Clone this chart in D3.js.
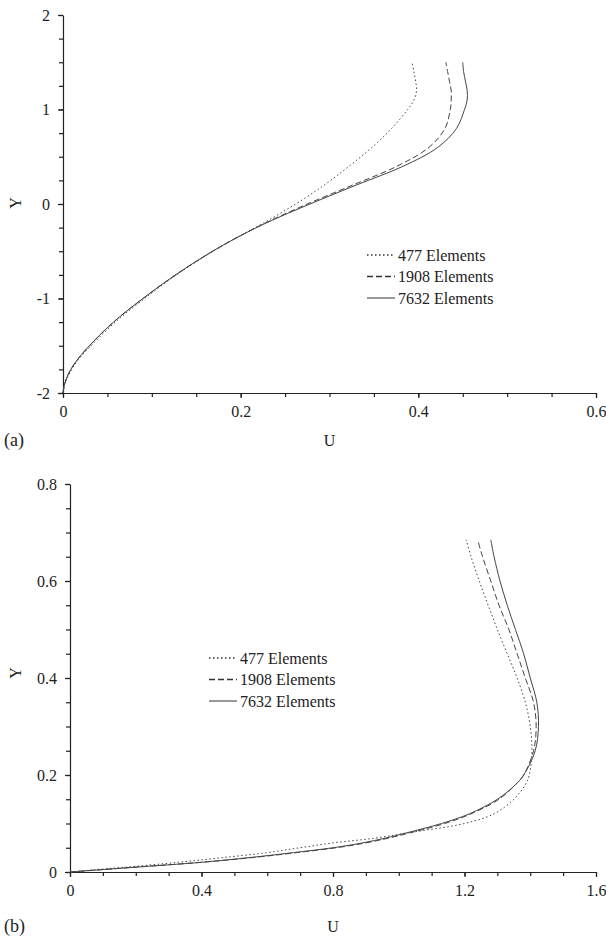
<!DOCTYPE html>
<html>
<head>
<meta charset="utf-8">
<script src="https://cdn.jsdelivr.net/npm/d3@7"></script>
<style>
  body { margin: 0; background: #fff; }
  svg text { font-family: "Liberation Serif", "Times New Roman", serif; fill: #222; }
</style>
</head>
<body>
<div id="chart"></div>
<script>
/* DATA */
var seriesNames = ["477 Elements", "1908 Elements", "7632 Elements"];
var seriesDash = ["1.5,2.5", "6,3", null];

// panel (a): U as a function of Y
var yA = [-2, -1.9, -1.8, -1.65, -1.4, -1.2, -1.0, -0.8, -0.6, -0.4, -0.2, 0, 0.2, 0.4, 0.6, 0.8, 1.0, 1.1, 1.2, 1.3, 1.4, 1.5];
var uA477  = [0, 0.002, 0.007, 0.017, 0.042, 0.065, 0.092, 0.120, 0.152, 0.187, 0.226, 0.262, 0.294, 0.322, 0.348, 0.370, 0.388, 0.395, 0.398, 0.397, 0.395, 0.393];
var uA1908 = [0, 0.002, 0.006, 0.016, 0.040, 0.063, 0.090, 0.119, 0.151, 0.187, 0.228, 0.275, 0.326, 0.376, 0.412, 0.430, 0.436, 0.437, 0.437, 0.435, 0.433, 0.431];
var uA7632 = [0, 0.002, 0.006, 0.016, 0.040, 0.063, 0.090, 0.119, 0.151, 0.187, 0.229, 0.278, 0.330, 0.383, 0.422, 0.443, 0.452, 0.455, 0.455, 0.453, 0.451, 0.450];
var xTicksA = [0, 0.2, 0.4, 0.6];
var yTicksA = [-2, -1, 0, 1, 2];

// panel (b)
var yB = [0, 0.005, 0.01, 0.02, 0.03, 0.04, 0.05, 0.06, 0.07, 0.08, 0.1, 0.12, 0.15, 0.18, 0.2, 0.25, 0.3, 0.35, 0.4, 0.45, 0.5, 0.55, 0.6, 0.65, 0.685];
var uB477  = [0, 0.08, 0.17, 0.33, 0.47, 0.60, 0.70, 0.80, 0.93, 1.02, 1.20, 1.29, 1.35, 1.385, 1.397, 1.405, 1.400, 1.385, 1.360, 1.330, 1.300, 1.272, 1.245, 1.220, 1.205];
var uB1908 = [0, 0.10, 0.20, 0.40, 0.56, 0.69, 0.81, 0.90, 0.97, 1.03, 1.14, 1.22, 1.305, 1.355, 1.380, 1.410, 1.418, 1.410, 1.385, 1.360, 1.335, 1.305, 1.280, 1.255, 1.240];
var uB7632 = [0, 0.10, 0.20, 0.40, 0.55, 0.68, 0.80, 0.89, 0.96, 1.02, 1.13, 1.215, 1.300, 1.355, 1.380, 1.415, 1.425, 1.420, 1.400, 1.380, 1.355, 1.330, 1.308, 1.290, 1.280];
var xTicksB = [0, 0.4, 0.8, 1.2, 1.6];
var yTicksB = [0, 0.2, 0.4, 0.6, 0.8];

/* SVG SETUP */
var width = 606;
var height = 936;

var svg = d3.select("#chart")
  .append("svg")
  .attr("width", width)
  .attr("height", height);

// plain hyphen for negatives, like the original figure
var fmt = function(d) { return d3.format("~g")(d).replace("\u2212", "-"); };

function drawPanel(p) {
  var x = d3.scaleLinear().domain(p.xDomain).range([p.left, p.right]);
  var y = d3.scaleLinear().domain(p.yDomain).range([p.bottom, p.top]);
  var g = svg.append("g");

  // minor ticks
  g.append("g")
    .attr("transform", "translate(0," + p.bottom + ")")
    .call(d3.axisBottom(x).tickValues(d3.range(p.xDomain[0], p.xDomain[1] + 1e-9, p.xMinor)).tickSize(4).tickFormat(""))
    .call(function(a) { a.select(".domain").remove(); });
  g.append("g")
    .attr("transform", "translate(" + p.left + ",0)")
    .call(d3.axisLeft(y).tickValues(d3.range(p.yDomain[0], p.yDomain[1] + 1e-9, p.yMinor)).tickSize(4).tickFormat(""))
    .call(function(a) { a.select(".domain").remove(); });

  // major axes
  g.append("g")
    .attr("transform", "translate(0," + p.bottom + ")")
    .call(d3.axisBottom(x).tickValues(p.xTicks).tickSize(5).tickSizeOuter(0).tickPadding(8).tickFormat(fmt));
  g.append("g")
    .attr("transform", "translate(" + p.left + ",0)")
    .call(d3.axisLeft(y).tickValues(p.yTicks).tickSize(5).tickSizeOuter(0).tickPadding(8).tickFormat(fmt));

  g.selectAll(".tick line, .domain").attr("stroke", "#222").attr("stroke-width", 1.2);
  g.selectAll(".tick text").attr("font-size", 16).attr("fill", "#222");

  // curves
  var line = d3.line()
    .x(function(d) { return x(d[0]); })
    .y(function(d) { return y(d[1]); })
    .curve(d3.curveCatmullRom.alpha(0.5));

  p.series.forEach(function(s, i) {
    g.append("path")
      .datum(p.yVals.map(function(v, k) { return [s[k], v]; }))
      .attr("d", line)
      .attr("fill", "none")
      .attr("stroke", "#444")
      .attr("stroke-width", 1)
      .attr("stroke-dasharray", seriesDash[i]);
  });

  // legend
  seriesNames.forEach(function(name, i) {
    var ly = p.legendY + i * 21.5;
    g.append("line")
      .attr("x1", p.legendX).attr("x2", p.legendX + 28)
      .attr("y1", ly).attr("y2", ly)
      .attr("stroke", "#333").attr("stroke-width", i == 2 ? 1 : 1.5)
      .attr("stroke-dasharray", seriesDash[i]);
    g.append("text")
      .attr("x", p.legendX + 31).attr("y", ly)
      .attr("dy", "0.35em")
      .attr("font-size", 16)
      .text(name);
  });

  // axis titles
  g.append("text")
    .attr("transform", "translate(" + p.yTitleX + "," + p.yTitleY + ") rotate(-90)")
    .attr("text-anchor", "middle")
    .attr("dy", "0.35em")
    .attr("font-size", 16)
    .text("Y");
  g.append("text")
    .attr("x", (p.left + p.right) / 2)
    .attr("y", p.titleY)
    .attr("text-anchor", "middle")
    .attr("dy", "0.35em")
    .attr("font-size", 16)
    .text("U");
  g.append("text")
    .attr("x", 4)
    .attr("y", p.titleY)
    .attr("dy", "0.35em")
    .attr("font-size", 18)
    .text(p.tag);
}

drawPanel({
  xDomain: [0, 0.6], yDomain: [-2, 2],
  left: 63, right: 596, top: 15, bottom: 393,
  xMinor: 0.05, yMinor: 0.25,
  xTicks: xTicksA, yTicks: yTicksA,
  yVals: yA, series: [uA477, uA1908, uA7632],
  legendX: 367, legendY: 255,
  yTitleX: 15, yTitleY: 203, titleY: 440, tag: "(a)"
});

drawPanel({
  xDomain: [0, 1.6], yDomain: [0, 0.8],
  left: 70, right: 596, top: 484, bottom: 872,
  xMinor: 0.1, yMinor: 0.05,
  xTicks: xTicksB, yTicks: yTicksB,
  yVals: yB, series: [uB477, uB1908, uB7632],
  legendX: 209, legendY: 658,
  yTitleX: 15, yTitleY: 673, titleY: 926, tag: "(b)"
});
</script>
</body>
</html>
